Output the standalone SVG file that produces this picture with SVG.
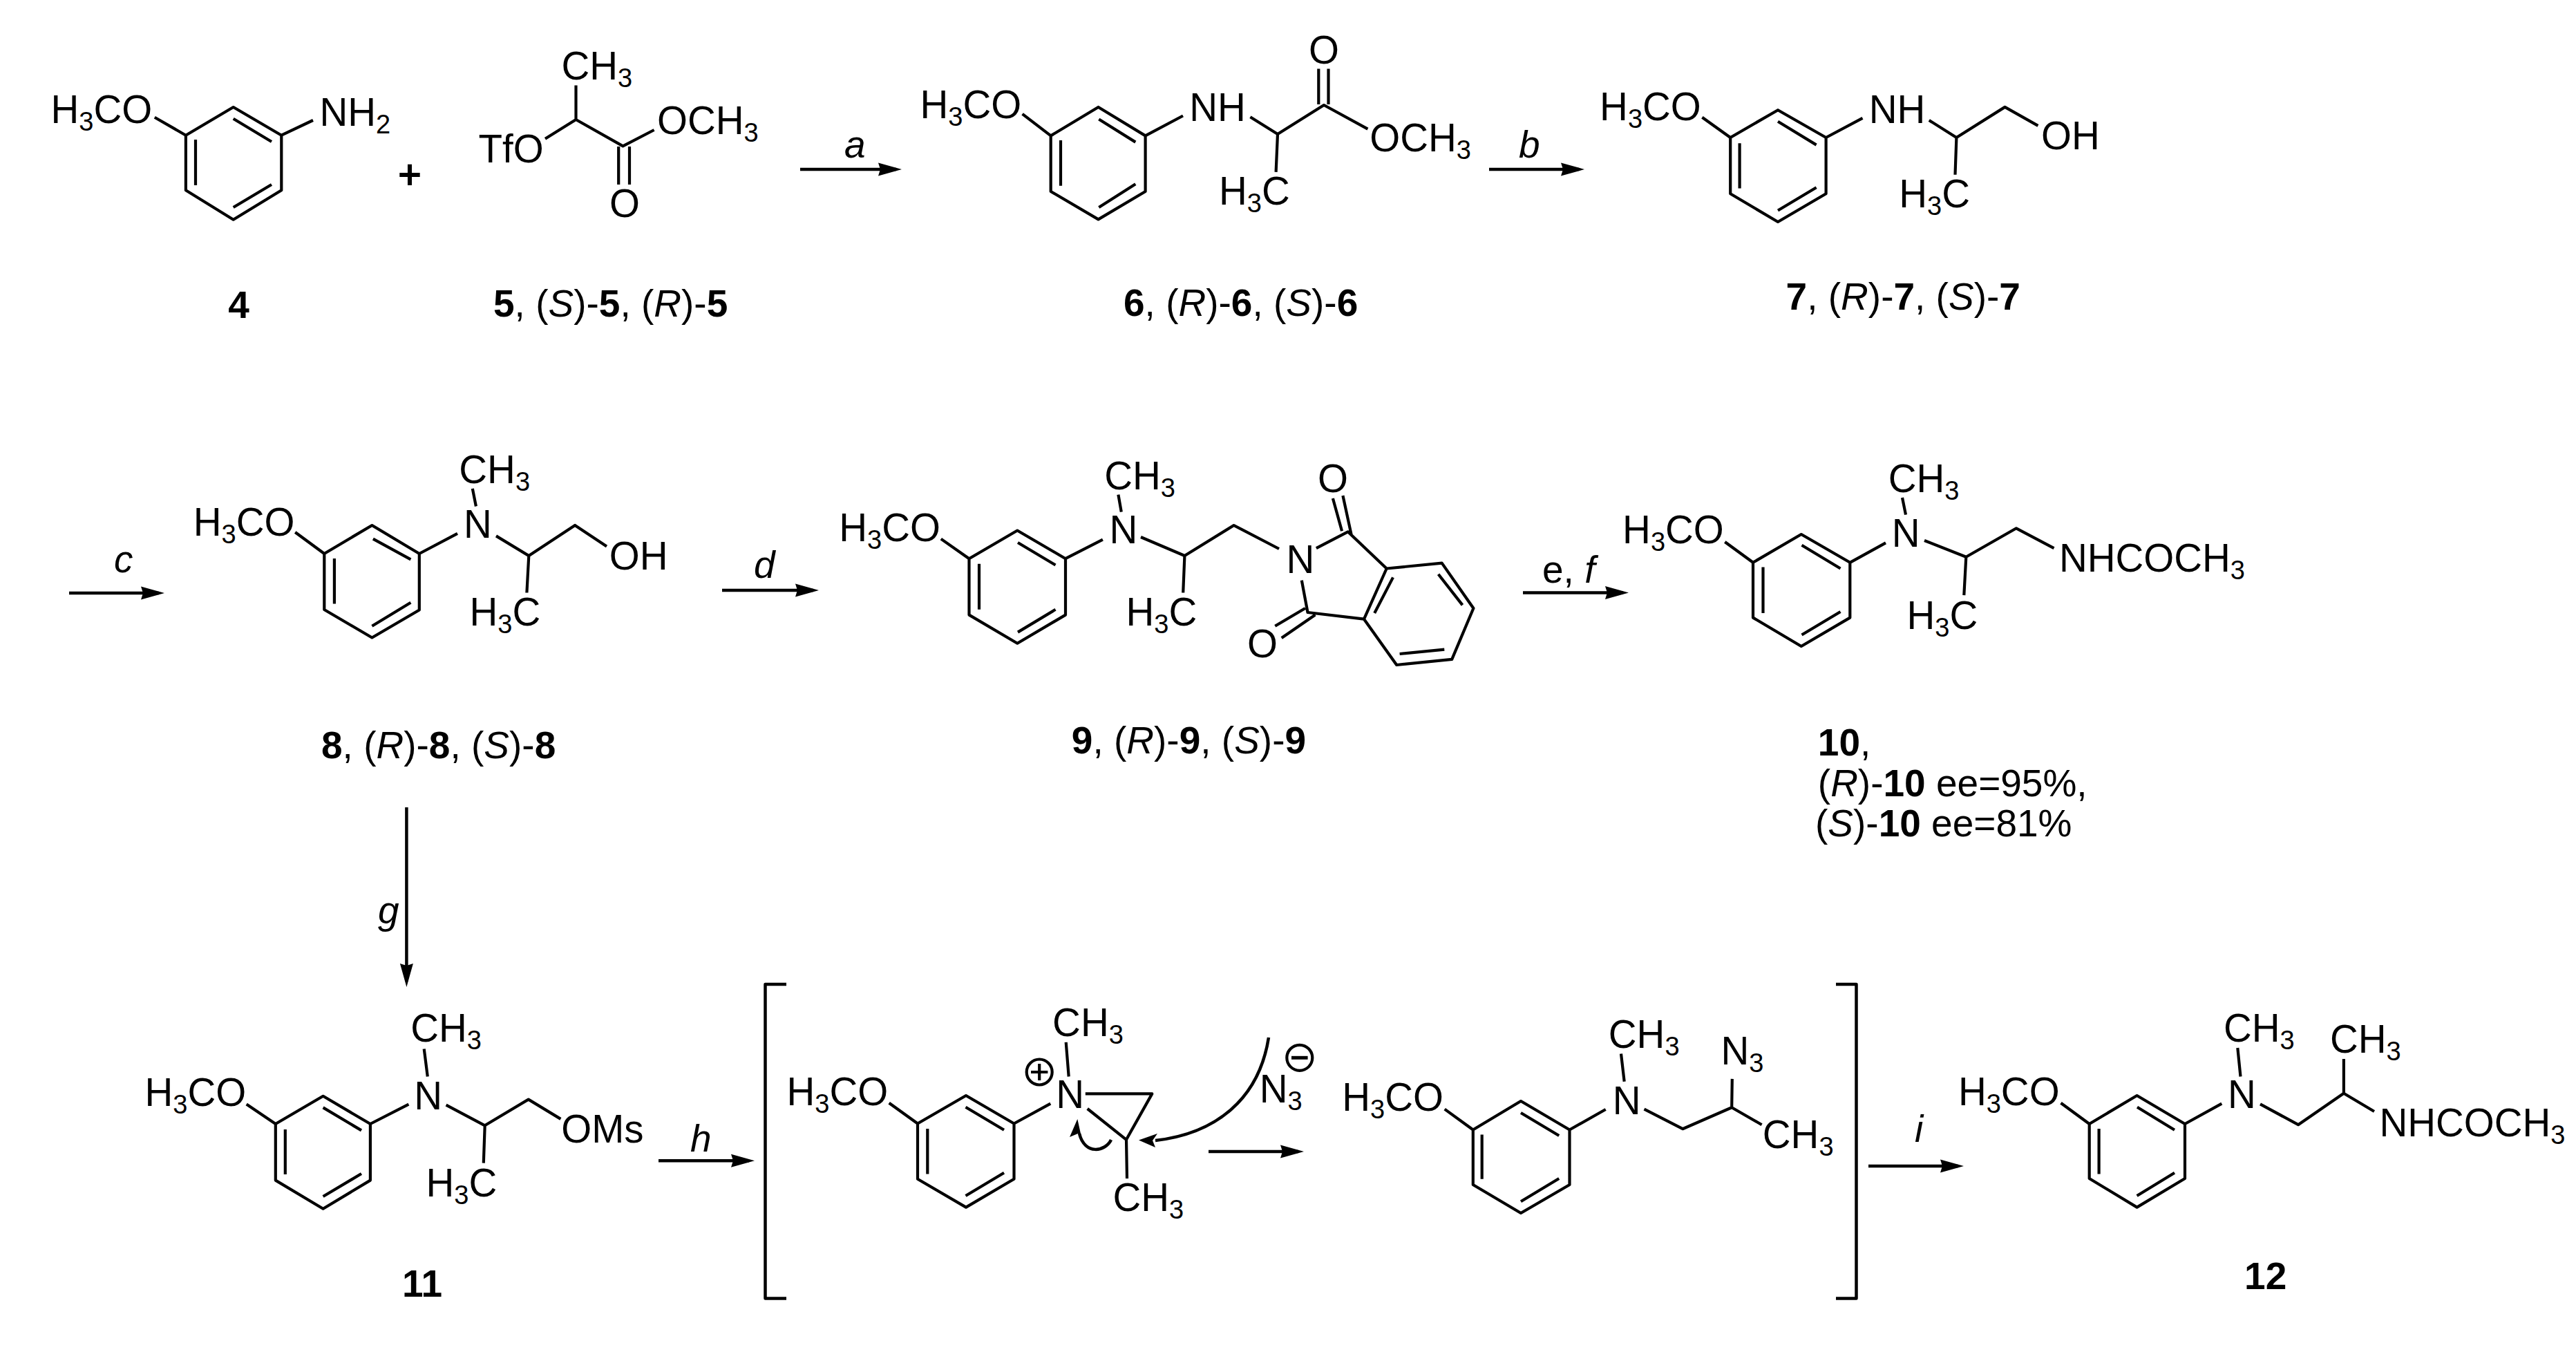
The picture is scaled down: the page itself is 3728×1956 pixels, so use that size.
<svg xmlns="http://www.w3.org/2000/svg" width="3728" height="1956" viewBox="0 0 3728 1956">
<style>
text{font-family:"Liberation Sans",Arial,sans-serif;font-size:56.5px;fill:#000}
text:not([text-anchor]):not(.i):not(.l){transform:translate(-3.5px,0)}
.l{font-size:55px}
.s{font-size:38px;baseline-shift:-11px}
.b{font-weight:bold;font-size:55px}
.i{font-style:italic;font-size:55px}
.bond{fill:none;stroke:#000;stroke-width:4.2;stroke-linejoin:round}
.arrow{fill:none;stroke:#000;stroke-width:4.5;marker-end:url(#head)}
.curve{fill:none;stroke:#000;stroke-width:4.5}
.head{fill:#000}
#plus{stroke:#000;stroke-width:2}
</style>
<defs>
<marker id="head" markerUnits="userSpaceOnUse" markerWidth="36" markerHeight="22" viewBox="0 0 36 22" refX="26" refY="11" orient="auto"><path d="M0 1.5L34 11L0 20.5L3 11Z" fill="#000"/></marker>
</defs>
<rect width="3728" height="1956" fill="#fff"/>
<g id="connectors">
<line class="arrow" x1="1158" y1="245" x2="1297" y2="245"/>
<line class="arrow" x1="2155" y1="245" x2="2285" y2="245"/>
<line class="arrow" x1="100" y1="858" x2="230" y2="858"/>
<line class="arrow" x1="1045" y1="854" x2="1177" y2="854"/>
<line class="arrow" x1="2204" y1="857.6" x2="2349" y2="857.6"/>
<line class="arrow" x1="588.4" y1="1168" x2="588.4" y2="1420"/>
<line class="arrow" x1="953" y1="1679.3" x2="1084" y2="1679.3"/>
<line class="arrow" x1="1749" y1="1666" x2="1879" y2="1666"/>
<line class="arrow" x1="2704" y1="1687" x2="2834" y2="1687"/>
<path class="curve" d="M1836 1501C1822 1590 1760 1640 1672 1650"/>
<path class="head" d="M1648 1649.5L1675 1640L1668 1650L1672 1660Z"/>
<path class="curve" d="M1608 1649C1600 1666 1570 1672 1562 1640"/>
<path class="head" d="M1559.3 1619L1548 1645L1560 1640L1565.5 1647Z"/>
<text class="i" x="1222" y="228">a</text>
<text class="i" x="2198" y="228">b</text>
<text class="i" x="165" y="828">c</text>
<text class="i" x="1091" y="836">d</text>
<text class="l" x="2232" y="843"><tspan>e</tspan>, <tspan class="i">f</tspan></text>
<text class="i" x="547" y="1336">g</text>
<text class="i" x="999" y="1666">h</text>
<text class="i" x="2771" y="1652">i</text>
</g>
<g id="mol-4">
<path class="bond" d="M337.7 155L407.3 195.7V275.3L337.7 317.7L268.9 275.3V195.7ZM283 202V268M337.7 171.8L393 205M393 267L337.7 300M223.8 169.8L268.9 195.7M407.3 195.7L453 174"/>
<text x="77" y="177.5">H<tspan class="s">3</tspan>CO</text>
<text x="466" y="182.4">NH<tspan class="s">2</tspan></text>
<text class="b" x="345.6" y="460" text-anchor="middle">4</text>
</g>
<text id="plus" x="593" y="272" text-anchor="middle">+</text>
<g id="mol-5">
<path class="bond" d="M833.5 123.4V173L789 200.7M833.5 173L901.5 211.3L946.6 188M895.2 212V267M911 212V267"/>
<text x="816" y="115">CH<tspan class="s">3</tspan></text>
<text x="696" y="234.8">TfO</text>
<text x="954.5" y="194">OCH<tspan class="s">3</tspan></text>
<text x="904" y="314.4" text-anchor="middle">O</text>
<text class="l" x="714" y="457.7"><tspan class="b">5</tspan>, (<tspan class="i">S</tspan>)-<tspan class="b">5</tspan>, (<tspan class="i">R</tspan>)-<tspan class="b">5</tspan></text>
</g>
<g id="mol-6">
<path class="bond" d="M1589.5 155L1657.6 196.4V277L1589.5 317.4L1520.7 277V196.4ZM1535 203V268.7M1590.3 172.5L1643.3 205.6M1643.3 266.3L1590.3 300M1479.6 164.8L1520.7 196.4M1657.6 196.4L1712 167.5M1809.4 169.2L1849 194L1916 152L1979.4 186.7M1849 194L1846.6 248.8M1908.3 99.5V151M1922.5 99.5V151"/>
<text x="1335" y="170.8">H<tspan class="s">3</tspan>CO</text>
<text x="1724.8" y="174.8">NH</text>
<text x="1767.5" y="296.2">H<tspan class="s">3</tspan>C</text>
<text x="1916" y="92.2" text-anchor="middle">O</text>
<text x="1985.8" y="219">OCH<tspan class="s">3</tspan></text>
<text class="l" x="1626" y="457"><tspan class="b">6</tspan>, (<tspan class="i">R</tspan>)-<tspan class="b">6</tspan>, (<tspan class="i">S</tspan>)-<tspan class="b">6</tspan></text>
</g>
<g id="mol-7">
<path class="bond" d="M2573 159.2L2642.6 199V280.3L2573 321L2504.2 280.3V199ZM2517.6 207.3V272.6M2573 175.8L2628.6 209.6M2628.6 271.3L2573 304.5M2463.4 169.8L2504.2 199M2642.6 199L2695.5 170.8M2791.8 174L2831.4 199L2901.5 154.9L2949.4 181.8M2831.4 199L2829.5 252.7"/>
<text x="2318.6" y="174">H<tspan class="s">3</tspan>CO</text>
<text x="2708.3" y="178">NH</text>
<text x="2751.7" y="300">H<tspan class="s">3</tspan>C</text>
<text x="2957.6" y="215.6">OH</text>
<text class="l" x="2584.6" y="448.4"><tspan class="b">7</tspan>, (<tspan class="i">R</tspan>)-<tspan class="b">7</tspan>, (<tspan class="i">S</tspan>)-<tspan class="b">7</tspan></text>
</g>
<g id="mol-8">
<path class="bond" d="M538.4 760L606.8 801V882.5L538.4 922.5L469.3 882V801ZM483.9 808V873.6M539.9 779.6L594.4 809.3M594.4 871.8L538.4 905.7M427.2 770L469.3 801M606.8 801L662 771.8M683.8 706.8L688.9 732.5M718 775.4L765.3 804L832.1 760L878 790.4M765.3 804L762.4 857.5"/>
<text x="283.2" y="774.6">H<tspan class="s">3</tspan>CO</text>
<text x="674.4" y="777.5">N</text>
<text x="667.8" y="698.6">CH<tspan class="s">3</tspan></text>
<text x="683" y="904.6">H<tspan class="s">3</tspan>C</text>
<text x="885.2" y="824.3">OH</text>
<text class="l" x="465" y="1096.8"><tspan class="b">8</tspan>, (<tspan class="i">R</tspan>)-<tspan class="b">8</tspan>, (<tspan class="i">S</tspan>)-<tspan class="b">8</tspan></text>
</g>
<g id="mol-9">
<path class="bond" d="M1472.3 767.5L1542 808.2V889.6L1472.3 930.7L1402.5 889.6V808.2ZM1417 815.7V881.8M1473 785L1527.5 817.5M1527.5 881.8L1473 914.6M1361.8 779.6L1402.5 808.2M1542 808.2L1595.9 780.7M1618.4 715.7L1622.8 740.7M1651 777L1714.4 804L1785.6 760L1851 794M1714.4 804L1712.2 857.5M1904.9 793.2L1950.7 769.3L2006.7 822.5L2086.7 814.6L2132.4 880L2101.2 953.9L2021.2 962L1974 895.7L1892.5 886L1883.8 839.6M2006.7 822.5L1974 895.7M1928.9 721L1942 768.2M1943.4 717L1955.8 774.3M1888.9 880L1845.3 905.7M1903.4 889.6L1854.7 922.9M2016 835.4L1989.2 887M2081.6 830.7L2116.5 875.4M2025.6 946L2090.3 939.6"/>
<text x="1217.8" y="783.2">H<tspan class="s">3</tspan>CO</text>
<text x="1609" y="786.4">N</text>
<text x="1601.7" y="707.5">CH<tspan class="s">3</tspan></text>
<text x="1633" y="904.6">H<tspan class="s">3</tspan>C</text>
<text x="1864.9" y="829.3">N</text>
<text x="1928.9" y="712" text-anchor="middle">O</text>
<text x="1827" y="951.4" text-anchor="middle">O</text>
<text class="l" x="1550.8" y="1089.6"><tspan class="b">9</tspan>, (<tspan class="i">R</tspan>)-<tspan class="b">9</tspan>, (<tspan class="i">S</tspan>)-<tspan class="b">9</tspan></text>
</g>
<g id="mol-10">
<path class="bond" d="M2606.8 773L2677.3 813.8V893.6L2606.8 935L2537 893.6V813.8ZM2551.5 820.5V887M2607.5 788.8L2663.5 822.5M2663.5 885L2607.5 918.5M2496.3 784L2537 813.8M2677.3 813.8L2729 785.3M2753 720L2758 744.6M2785 782L2845.3 805.8L2918 764.3L2972.5 793.2M2845.3 805.8L2842.3 861.2"/>
<text x="2351.6" y="786">H<tspan class="s">3</tspan>CO</text>
<text x="2741.3" y="791.2">N</text>
<text x="2736.2" y="711.7">CH<tspan class="s">3</tspan></text>
<text x="2763" y="909.8">H<tspan class="s">3</tspan>C</text>
<text x="2983.4" y="826.8">NHCOCH<tspan class="s">3</tspan></text>
<text class="l" x="2630.8" y="1093.3"><tspan class="b">10</tspan>,</text>
<text class="l" x="2630.8" y="1151.8">(<tspan class="i">R</tspan>)-<tspan class="b">10</tspan> ee=95%,</text>
<text class="l" x="2627" y="1210">(<tspan class="i">S</tspan>)-<tspan class="b">10</tspan> ee=81%</text>
</g>
<g id="mol-11">
<path class="bond" d="M467.6 1585.8L535.9 1626V1707.6L467.6 1748.7L398.8 1707.6V1626ZM412.8 1634V1699M467.6 1602.4L523 1635.4M523 1698L467.6 1731M356.7 1597.6L398.8 1626M535.9 1626L591.4 1597.6M613.7 1517.4L618.8 1557.5M645.6 1598.6L701.7 1628.3L764.8 1590.6L811.4 1618.9M701.7 1628.3L699.8 1682.6"/>
<text x="213" y="1600">H<tspan class="s">3</tspan>CO</text>
<text x="602.8" y="1604.7">N</text>
<text x="597.7" y="1507">CH<tspan class="s">3</tspan></text>
<text x="620" y="1730.7">H<tspan class="s">3</tspan>C</text>
<text x="815.8" y="1653.3">OMs</text>
<text class="b" x="611" y="1876" text-anchor="middle">11</text>
</g>
<g id="bracket">
<path class="bond" style="stroke-width:4.5" d="M1138 1424H1107.5V1878.5H1138M2657 1424H2686.5V1878.5H2657"/>
</g>
<g id="aziridinium">
<path class="bond" d="M1398 1585L1467.5 1625.5V1705.8L1398 1746.6L1328 1705.8V1625.5ZM1342.3 1633V1698.5M1397.5 1601.7L1453 1634.8M1453 1696.8L1397.5 1730M1286.7 1595.7L1328 1625.5M1467.5 1625.5L1520.3 1596.7M1542.7 1507.8L1546.7 1557.5M1570.8 1582.4H1667.3L1630 1648.8L1573.7 1604M1630 1648.8L1631 1705"/>
<circle class="bond" cx="1504.2" cy="1551" r="18.5"/>
<path class="bond" d="M1492 1551H1516.4M1504.2 1539V1563"/>
<text x="1142" y="1599">H<tspan class="s">3</tspan>CO</text>
<text x="1531.8" y="1603">N</text>
<text x="1526.6" y="1498.5">CH<tspan class="s">3</tspan></text>
<text x="1613.9" y="1751.6">CH<tspan class="s">3</tspan></text>
</g>
<g id="azide-ion">
<text x="1826.3" y="1594.7">N<tspan class="s">3</tspan></text>
<circle class="bond" cx="1880.8" cy="1530.3" r="18.5"/>
<path class="bond" style="stroke-width:5" d="M1869 1530.3H1892.6"/>
</g>
<g id="azide">
<path class="bond" d="M2201 1593L2271.5 1634.5V1714L2201 1755L2131.8 1714V1634.5ZM2144.7 1641.5V1705.8M2201 1610L2256.2 1643M2256.2 1705L2201 1738.3M2090.7 1604.6L2131.8 1634.5M2271.5 1634.5L2323.7 1605M2346 1524.4L2350.7 1564.8M2379.5 1604.6L2435.2 1633.2L2506.2 1602.3L2549.6 1627.2M2506.2 1602.3L2506.8 1560.9"/>
<text x="1945.8" y="1607.3">H<tspan class="s">3</tspan>CO</text>
<text x="2337.2" y="1611.6">N</text>
<text x="2331.3" y="1516">CH<tspan class="s">3</tspan></text>
<text x="2493.9" y="1540">N<tspan class="s">3</tspan></text>
<text x="2554.3" y="1661.4">CH<tspan class="s">3</tspan></text>
</g>
<g id="mol-12">
<path class="bond" d="M3092.6 1585L3162 1626V1705L3092.6 1746.6L3023.7 1705V1626ZM3037.6 1633V1698.5M3093 1601.7L3147 1634.8M3147 1696.8L3092.6 1730M2982.5 1595.7L3023.7 1626M3162 1626L3215.3 1596.7M3238.3 1516L3242.5 1557.5M3271 1597.3L3326 1627.2L3391.9 1581.8L3436 1608M3391.9 1581.8V1532"/>
<text x="2837.4" y="1599">H<tspan class="s">3</tspan>CO</text>
<text x="3227.4" y="1603">N</text>
<text x="3221.4" y="1507">CH<tspan class="s">3</tspan></text>
<text x="3375.5" y="1523.4">CH<tspan class="s">3</tspan></text>
<text x="3446.9" y="1643.8">NHCOCH<tspan class="s">3</tspan></text>
<text class="b" x="3278.7" y="1865.3" text-anchor="middle">12</text>
</g>
</svg>
